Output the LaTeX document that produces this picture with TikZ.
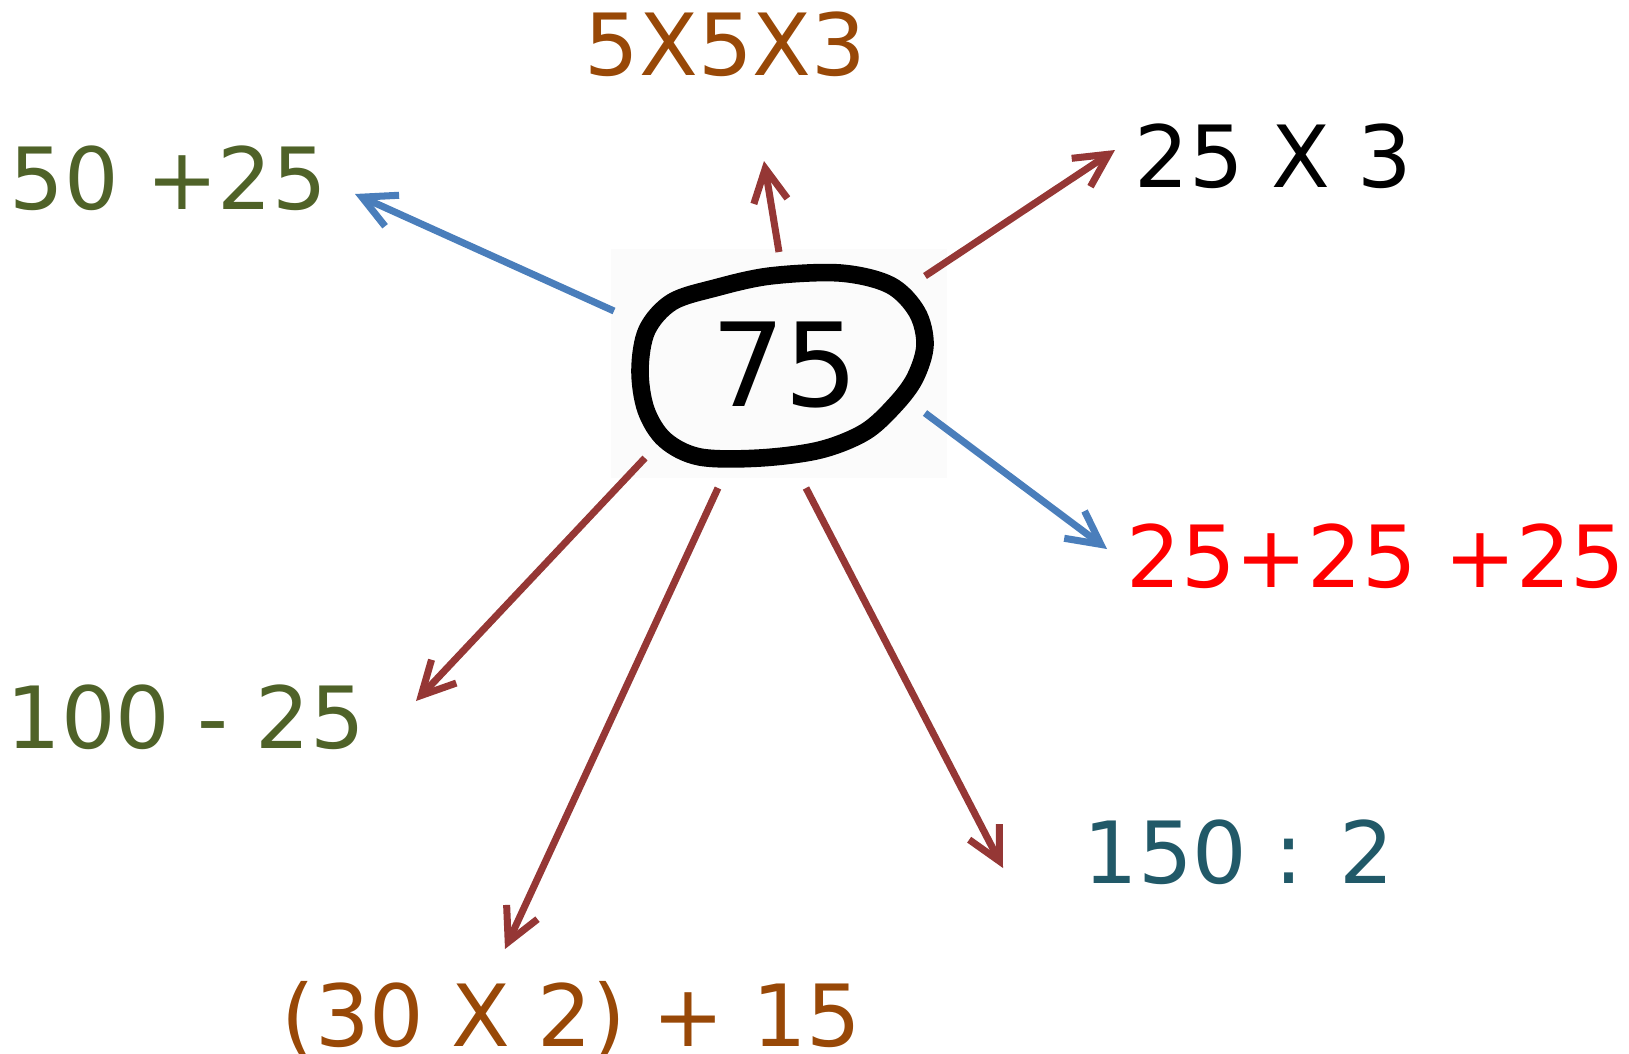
\documentclass[tikz,border=0pt]{standalone}
\usepackage{fontspec}
\setmainfont{DejaVu Sans}
\usepackage{xcolor}
\usetikzlibrary{arrows.meta, positioning}
\definecolor{sum-brown}{HTML}{984807}
\definecolor{sum-olive}{HTML}{4F6228}
\definecolor{sum-teal}{HTML}{215968}
\definecolor{sum-red}{HTML}{FF0000}
\definecolor{sum-blue}{HTML}{4A7EBB}
\definecolor{sum-wine}{HTML}{953735}

\begin{document}
\begin{tikzpicture}[
			x=0.01cm, y=-0.01cm,
			answer/.style={
				anchor=base west, inner sep=0pt,
				font=\fontsize{24.4}{29}\selectfont
			},
			ray/.style={
				line width=2pt, draw=sum-wine,
				-{Straight Barb[length=3.3mm,width=3.4mm]}
			},
			ring/.style={
				line width=5pt, line join=round
			}
			]
			
			\useasboundingbox (0,0) rectangle (1629,1054);
			
			% the scanned number in its ring
			\fill[black!1.5] (611,249) rectangle (947,478);
			\draw[ring] plot[smooth cycle, tension=0.55] coordinates {
				(770,276) (840,273) (890,285) (917,312) (925,345) (915,378)
				(895,405) (865,432) (820,450) (760,458) (700,457) (665,440)
				(646,410) (640,370) (647,330) (672,302) (715,288)};
			\node[font=\fontsize{33}{40}\selectfont] (num) at (785,365) {75};
			
			% the answers
			\node[answer, text=sum-olive] (plusA) at (9,209) {50 +25};
			\node[answer, text=sum-brown] (prodA) at (584,75) {5X5X3};
			\node[answer, text=black] (prodB) at (1134,187) {25 X 3};
			\node[answer, text=sum-red] (plusB) at (1126,587) {25+25 +25};
			\node[answer, text=sum-olive] (minusA) at (6,748) {100 - 25};
			\node[answer, text=sum-teal] (divA) at (1083,883) {150 : 2};
			\node[answer, text=sum-brown] (mixA) at (281,1046) {(30 X 2) + 15};
			
			% ends of the arrows
			\coordinate (s1) at (614,311); \coordinate (e1) at (355,194);
			\coordinate (s2) at (779,252); \coordinate (e2) at (764,161);
			\coordinate (s3) at (925,276); \coordinate (e3) at (1115,150);
			\coordinate (s4) at (925,413); \coordinate (e4) at (1107,549);
			\coordinate (s5) at (806,488); \coordinate (e5) at (1003,868);
			\coordinate (s6) at (718,488); \coordinate (e6) at (505,949);
			\coordinate (s7) at (645,458); \coordinate (e7) at (416,701);
			
			\draw[ray, draw=sum-blue] (s1) -- (e1);
			\draw[ray] (s2) -- (e2);
			\draw[ray] (s3) -- (e3);
			\draw[ray, draw=sum-blue] (s4) -- (e4);
			\draw[ray] (s5) -- (e5);
			\draw[ray] (s6) -- (e6);
			\draw[ray] (s7) -- (e7);
			
		\end{tikzpicture}
\end{document}
